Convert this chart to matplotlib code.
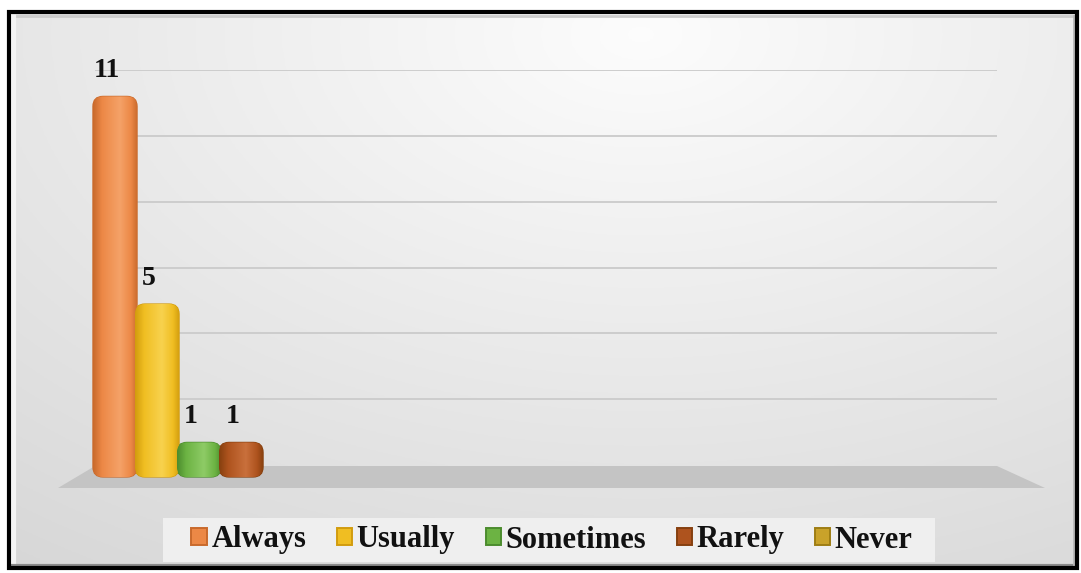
import numpy as np
import matplotlib
matplotlib.use("Agg")
import matplotlib.pyplot as plt
from matplotlib.patches import FancyBboxPatch, Rectangle, Polygon, Patch
from matplotlib.colors import LinearSegmentedColormap

# ---- data ----
categories = ["Always", "Usually", "Sometimes", "Rarely", "Never"]
values = [11, 5, 1, 1, 0]
colors = ["#EC8846", "#F0BE22", "#6CB343", "#AE531E", "#C9A22A"]
dark_colors = ["#C96A2C", "#D29C0E", "#4C8C2E", "#86400F", "#9E7D14"]
light_colors = ["#F5A268", "#F8D24E", "#8ECB66", "#C9703C", "#E2C25A"]
grid_ticks = [0, 2, 4, 6, 8, 10, 12]

W, H = 1081, 573
fig = plt.figure(figsize=(W / 100, H / 100), dpi=100)
fig.patch.set_facecolor("white")


def fr(x0, y0, x1, y1):
    return [x0 / W, 1 - y1 / H, (x1 - x0) / W, (y1 - y0) / H]


# ---- background axes (pixel coordinates) ----
bg = fig.add_axes([0, 0, 1, 1])
bg.set_xlim(0, W)
bg.set_ylim(H, 0)
bg.axis("off")

xx, yy = np.meshgrid(np.linspace(0, W, 300), np.linspace(0, H, 200))
t = np.sqrt(((xx - 640) / 900) ** 2 + ((yy - 20) / 560) ** 2)
g = np.clip(0.99 - 0.12 * t, 0.84, 1.0)
bg.imshow(np.dstack([g, g, g]), extent=(12, 1075, 566, 14), aspect="auto", zorder=0)

# inner bevel
bg.plot([14, 1074], [16, 16], color="#cccccc", lw=2, zorder=1)
bg.plot([14, 14], [16, 566], color="#f4f4f4", lw=3, zorder=1)
bg.plot([12, 1075], [566, 566], color="#8a8a8a", lw=3, zorder=1)
bg.plot([1074, 1074], [16, 566], color="#b8b8b8", lw=2, zorder=1)

# floor
floor = Polygon([(95, 466), (997, 466), (1045, 488), (58, 488)], closed=True,
                facecolor="#c4c4c4", edgecolor="none", zorder=2)
bg.add_patch(floor)

# legend box
bg.add_patch(Rectangle((163, 518), 772, 44, facecolor="#efefef", edgecolor="none", zorder=2))

# outer black border
bg.add_patch(Rectangle((8.5, 12), 1068, 556, facecolor="none", edgecolor="black", lw=3, zorder=5))

# ---- wall axes with gridlines ----
wall = fig.add_axes(fr(95, 70, 997, 465))
wall.set_ylim(grid_ticks[0], grid_ticks[-1])
wall.set_xlim(0, 1)
wall.set_yticks(grid_ticks[1:])
wall.set_xticks([])
wall.patch.set_alpha(0)
for s in wall.spines.values():
    s.set_visible(False)
wall.tick_params(left=False, labelleft=False)
wall.grid(axis="y", color="#cdcdcd", lw=1.4)
wall.set_axisbelow(True)

# ---- bar axes ----
AX_L, AX_R = 60, 997
ax = fig.add_axes(fr(AX_L, 40, AX_R, 480))
px_x = 42.0
px_y = 34.6
XLIM = ((AX_L - 115) / px_x, (AX_R - 115) / px_x)
YLIM = (-3 / px_y, (477 - 40) / px_y)
ax.patch.set_alpha(0)
ax.axis("off")

xpos = np.arange(len(categories))
bars = ax.bar(xpos, values, width=1.05, color=colors)
r_x = 10 / px_x
asp = (10 / px_y) / r_x
for i, b in enumerate(bars):
    b.set_visible(False)
    x0, w, h = b.get_x(), b.get_width(), b.get_height()
    if h <= 0:
        continue
    patch = FancyBboxPatch((x0, 0), w, h,
                           boxstyle=f"round,pad=0,rounding_size={r_x}",
                           mutation_aspect=asp, facecolor=colors[i],
                           edgecolor=dark_colors[i], lw=0.9, zorder=3)
    ax.add_patch(patch)
    cmap = LinearSegmentedColormap.from_list(
        "c", [(0, dark_colors[i]), (0.2, colors[i]), (0.6, light_colors[i]),
              (0.85, colors[i]), (1, dark_colors[i])])
    grad = np.linspace(0, 1, 100).reshape(1, -1)
    im = ax.imshow(grad, cmap=cmap, extent=(x0, x0 + w, 0, h), aspect="auto", zorder=3.5)
    im.set_clip_path(patch)
    ax.annotate(str(values[i]), (x0 + w / 2, h), xytext=(-8, 13), textcoords="offset pixels",
                ha="center", va="bottom", fontsize=20, fontweight="bold",
                family="Liberation Serif", color="#111111", zorder=6)

ax.set_xlim(*XLIM)
ax.set_ylim(*YLIM)
# shift y so that value 0 sits at pixel 477
ax.set_position(fr(AX_L, 40, AX_R, 477 + 3))

# ---- legend ----
handles = [Patch(facecolor=colors[i], edgecolor=dark_colors[i], lw=1.4) for i in range(len(categories))]
leg = fig.legend(handles, categories, loc="center", bbox_to_anchor=(552 / W, 1 - 540 / H),
                 ncol=5, frameon=False, handlelength=0.5, handleheight=0.5,
                 handletextpad=0.15, columnspacing=1.0,
                 prop={"family": "Liberation Serif", "weight": "bold", "size": 22})
for txt in leg.get_texts():
    txt.set_color("#111111")

fig.savefig("out.png", dpi=100, facecolor="white")
